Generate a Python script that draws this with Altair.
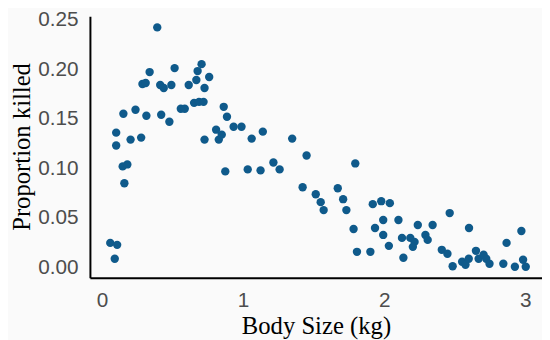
import altair as alt
import pandas as pd

body_size = [0.392, 0.338, 0.515, 0.706, 0.678, 0.760, 0.669, 0.727, 0.615, 0.287,
             0.310, 0.413, 0.438, 0.492, 0.152, 0.238, 0.315, 0.420, 0.478, 0.559,
             0.587, 0.653, 0.688, 0.720, 0.101, 0.101, 0.203, 0.278, 0.727, 0.809,
             0.828, 0.147, 0.180, 0.159, 0.059, 0.108, 0.091, 0.863, 0.886, 0.849,
             0.933, 0.989, 1.061, 1.140, 1.348, 1.450, 1.215, 1.259, 0.874, 1.033,
             1.124, 1.422, 1.795, 1.515, 1.550, 1.571, 1.671, 1.709, 1.732, 1.919,
             1.979, 2.040, 1.993, 2.101, 1.783, 1.935, 1.993, 2.238, 2.126, 2.185,
             2.215, 2.203, 2.033, 1.807, 1.902, 2.136, 2.464, 2.343, 2.292, 2.308,
             2.601, 2.972, 2.867, 2.408, 2.448, 2.485, 2.552, 2.576, 2.599, 2.650,
             2.669, 2.704, 2.723, 2.746, 2.844, 2.926, 2.984, 3.003]
prop_killed = [0.242, 0.197, 0.201, 0.205, 0.198, 0.192, 0.189, 0.181, 0.184, 0.185,
               0.186, 0.184, 0.181, 0.184, 0.155, 0.159, 0.153, 0.154, 0.147, 0.160,
               0.160, 0.166, 0.167, 0.167, 0.136, 0.123, 0.129, 0.131, 0.129, 0.139,
               0.129, 0.102, 0.104, 0.085, 0.025, 0.023, 0.009, 0.162, 0.152, 0.134,
               0.142, 0.142, 0.130, 0.137, 0.130, 0.113, 0.106, 0.099, 0.097, 0.099,
               0.098, 0.081, 0.105, 0.074, 0.066, 0.058, 0.080, 0.069, 0.058, 0.064,
               0.067, 0.065, 0.048, 0.048, 0.039, 0.040, 0.033, 0.043, 0.030, 0.030,
               0.026, 0.021, 0.022, 0.016, 0.016, 0.010, 0.055, 0.043, 0.033, 0.028,
               0.040, 0.037, 0.025, 0.018, 0.014, 0.0015, 0.006, 0.003, 0.009, 0.017,
               0.009, 0.013, 0.009, 0.004, 0.004, 0.001, 0.008, 0.001]

x_ticks = [0, 1, 2, 3]
y_ticks = [0.00, 0.05, 0.10, 0.15, 0.20, 0.25]

df = pd.DataFrame({"size": body_size, "prop": prop_killed})

chart = alt.Chart(df).mark_circle(size=72, opacity=1, color="#0F5A8B").encode(
    x=alt.X("size:Q", title="Body Size (kg)",
            scale=alt.Scale(domain=[-0.085, 3.118], nice=False, zero=False),
            axis=alt.Axis(values=x_ticks, format="d", grid=False, ticks=False,
                          labelPadding=12, titlePadding=4, titleFontSize=25)),
    y=alt.Y("prop:Q", title="Proportion killed",
            scale=alt.Scale(domain=[-0.0101, 0.2533], nice=False, zero=False),
            axis=alt.Axis(values=y_ticks, format=".2f", grid=False, ticks=False,
                          labelPadding=12, titleFontSize=25,
                          titleAlign="center", titleBaseline="middle",
                          titleAngle=270, titleX=-69, titleY=132)),
).properties(
    width=458, height=265,
    autosize=alt.AutoSizeParams(type="none"),
    padding={"left": 83, "top": 6, "right": 0, "bottom": 75},
    background="#FAFAFA",
).configure_view(
    stroke=None
).configure_axis(
    domainColor="#000000", domainWidth=2,
    labelFont="Liberation Sans", labelFontSize=21, labelColor="#4D4D4D",
    titleFont="Liberation Serif", titleColor="#000000",
    titleFontWeight="normal",
)

chart.save("out.html", embed_options={"renderer": "svg", "actions": False})
